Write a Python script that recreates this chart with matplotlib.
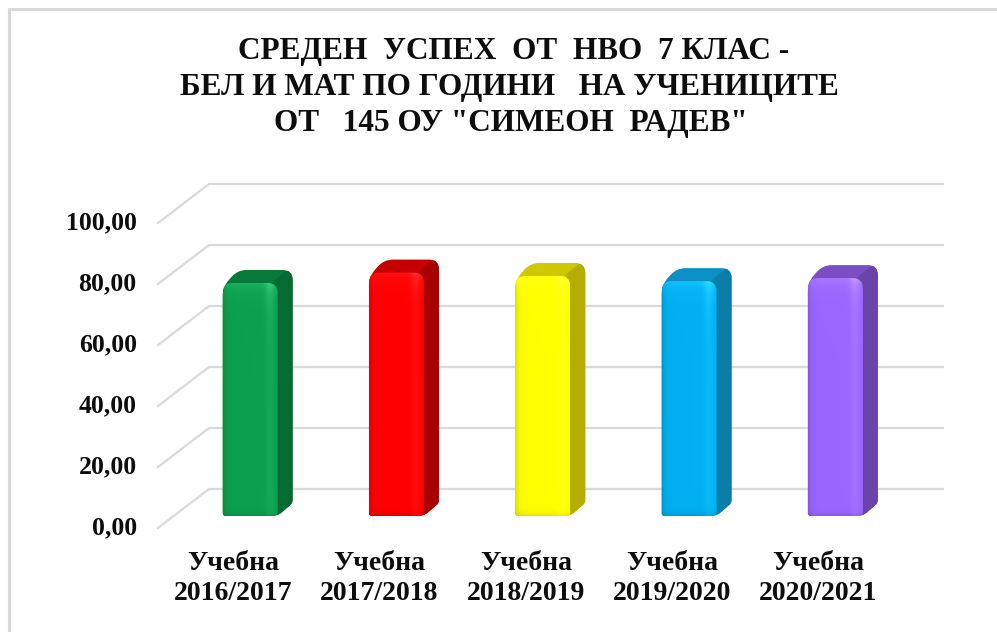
import numpy as np
import matplotlib
matplotlib.use('Agg')
import matplotlib.pyplot as plt
from matplotlib.patches import PathPatch
from matplotlib.path import Path
from matplotlib.transforms import Affine2D, IdentityTransform
from matplotlib.colors import to_rgb

title_lines = ['СРЕДЕН  УСПЕХ  ОТ  НВО  7 КЛАС -',
               'БЕЛ И МАТ ПО ГОДИНИ   НА УЧЕНИЦИТЕ',
               'ОТ   145 ОУ "СИМЕОН  РАДЕВ"']
years = ['Учебна\n2016/2017', 'Учебна\n2017/2018', 'Учебна\n2018/2019',
         'Учебна\n2019/2020', 'Учебна\n2020/2021']
values = [76.4, 79.8, 78.7, 77.0, 78.0]
y_ticks = [0, 20, 40, 60, 80, 100]
y_labels = ['0,00', '20,00', '40,00', '60,00', '80,00', '100,00']
front_colors = ['#0aa04f', '#ff0000', '#ffff00', '#00b0f0', '#9966ff']
side_colors = ['#066b32', '#a80000', '#b5ad00', '#0a7da8', '#6a44a8']
top_colors = ['#07793a', '#c40000', '#cfc800', '#0a90c4', '#7a4fc4']

W, H = 997, 632
plt.rcParams['font.family'] = ['Liberation Serif', 'DejaVu Serif']
fig = plt.figure(figsize=(W / 100, H / 100), dpi=100)
ax = fig.add_axes([177 / W, (H - 516) / H, 731.5 / W, 305 / H])
ax.patch.set_alpha(0)
x = np.arange(len(values))
ax.set_xlim(-0.5, 4.5)
ax.set_ylim(0, 100)
for s in ax.spines.values():
    s.set_visible(False)
ax.tick_params(length=0)
ax.set_yticks(y_ticks, y_labels, fontsize=18.5, fontweight='bold', color='#0d0d0d')
ax.set_xticks(x, years, fontsize=20, fontweight='bold', color='#0d0d0d', linespacing=1.3)
ax.tick_params(axis='y', pad=29)
ax.tick_params(axis='x', pad=25)
for lab in ax.get_yticklabels():
    lab.set_transform(lab.get_transform() + Affine2D().translate(0, -9))
for lab in ax.get_xticklabels():
    lab.set_transform(lab.get_transform() + Affine2D().translate(-17, 0))

idt = IdentityTransform()


def rounded(points, radii):
    # closed polygon with each corner cut by a quadratic curve
    verts, codes = [], []
    n = len(points)
    for k in range(n):
        p = np.array(points[k], float)
        a = np.array(points[k - 1], float)
        b = np.array(points[(k + 1) % n], float)
        r = radii[k]
        p1 = p + (a - p) / np.linalg.norm(a - p) * r
        p2 = p + (b - p) / np.linalg.norm(b - p) * r
        verts += [p1, p, p2]
        codes += [Path.MOVETO if k == 0 else Path.LINETO, Path.CURVE3, Path.CURVE3]
    verts.append(verts[0])
    codes.append(Path.CLOSEPOLY)
    return Path(verts, codes)


# border of the chart area, only top and left show
fig.add_artist(plt.Line2D([9 / W, 9 / W, 1], [0, 1 - 9 / H, 1 - 9 / H], color='#d9d9d9', lw=2.2))

# gridlines run from the front wall edge back and then right
for v in y_ticks:
    py = ax.transData.transform((0, v))[1]
    ax.plot([158, 209, 943], [py - 12, py + 27, py + 27], color='#d9d9d9', lw=1.6,
            transform=idt, clip_on=False, zorder=1, solid_joinstyle='round')

bar_w = 55 / 146.3
dx, dy = 15, 13
for i, val in enumerate(values):
    (l, b), (r, t) = ax.transData.transform([(x[i] - bar_w / 2, 0), (x[i] + bar_w / 2, val)])
    # whole silhouette, top face colour
    body = rounded([(l, t - 4), (l + dx, t + dy), (r + dx, t + dy), (r + dx, b + dy), (r, b), (l, b)],
                   [9, 9, 10, 3, 6, 3])
    body_patch = PathPatch(body, fc=top_colors[i], ec='none', transform=idt, zorder=3, clip_on=False)
    ax.add_patch(body_patch)
    side = rounded([(r - 5, t + 1), (r + dx - 4, t + dy + 1), (r + dx + 1, t + dy + 1),
                    (r + dx + 1, b + dy), (r, b - 1)],
                   [1, 1, 1, 1, 1])
    side_patch = PathPatch(side, fc=side_colors[i], ec='none', transform=idt, zorder=4)
    ax.add_patch(side_patch)
    side_patch.set_clip_path(body_patch)

    # front face: gradient image clipped to a rounded rectangle
    front = rounded([(l, t), (r, t), (r, b), (l, b)], [10, 10, 5, 3])
    clip = PathPatch(front, fc='none', ec='none', transform=idt)
    ax.add_patch(clip)
    base = np.array(to_rgb(front_colors[i]))
    nh, nw = int(t - b), int(r - l)
    u = np.linspace(0, 1, nw)[None, :, None]
    v = np.linspace(0, 1, nh)[:, None, None]
    light = 0.12 * np.exp(-((u - 0.86) / 0.09) ** 2) * (0.3 + 0.7 * np.exp(-v * (nh / 18)))
    light = light + 0.07 * np.exp(-v * (nh / 8))
    dark = 0.12 * np.exp(-u * nw / 3) + 0.10 * np.exp(-(1 - v) * nh / 3)
    img = np.clip(base[None, None, :] * (1 - dark) + light, 0, 1)
    im = ax.imshow(img, extent=(x[i] - bar_w / 2, x[i] + bar_w / 2, 0, val), origin='upper',
                   aspect='auto', zorder=5, interpolation='bilinear')
    im.set_clip_path(clip)

ax.set_xlim(-0.5, 4.5)
ax.set_ylim(0, 100)

for line, cx, py in zip(title_lines, [514, 509, 511], [51, 87, 123]):
    fig.text(cx / W, 1 - py / H, line, ha='center', va='center', fontsize=22.5,
             fontweight='bold', color='#0d0d0d')

fig.savefig('out.png', dpi=100)
